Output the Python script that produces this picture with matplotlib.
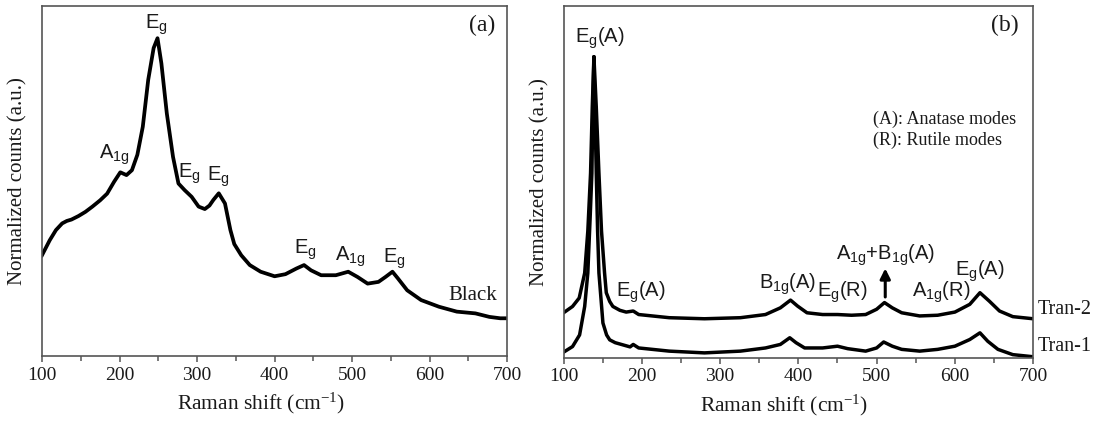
import matplotlib
matplotlib.use("Agg")
import matplotlib.pyplot as plt
from matplotlib.ticker import MultipleLocator

plt.rcParams['mathtext.default'] = 'regular'

# ---------------- data: panel (a) "Black" ----------------
black_shift = [100, 110, 118, 126, 132, 138, 147, 156, 165, 175, 184, 193, 201,
               209, 216, 223, 230, 237, 244, 249, 254, 261, 269, 276, 284, 293,
               302, 310, 316, 321, 328, 336, 343, 348, 357, 368, 382, 400, 414,
               428, 438, 447, 460, 479, 495, 507, 520, 534, 543, 552, 559, 571,
               589, 612, 635, 659, 677, 691, 700]
black_counts = [0.288, 0.331, 0.360, 0.379, 0.386, 0.390, 0.400, 0.412, 0.427,
                0.445, 0.464, 0.498, 0.525, 0.517, 0.531, 0.575, 0.655, 0.789,
                0.880, 0.908, 0.836, 0.693, 0.569, 0.493, 0.474, 0.455, 0.427,
                0.420, 0.430, 0.446, 0.465, 0.436, 0.360, 0.320, 0.288, 0.260,
                0.241, 0.228, 0.234, 0.250, 0.260, 0.245, 0.231, 0.231, 0.241,
                0.226, 0.207, 0.212, 0.226, 0.241, 0.222, 0.188, 0.160, 0.141,
                0.127, 0.122, 0.112, 0.108, 0.108]

# ---------------- data: panel (b) ----------------
tran1_shift = [100, 111.5, 120.5, 127, 131, 134, 136.2, 137.5, 138.8, 140,
               141.8, 143.5, 145.2, 150.3, 155, 159, 166, 185, 189, 196, 235,
               280, 326, 358, 377, 389, 397, 408, 431, 450, 463, 486, 500, 509,
               520, 532, 555, 578, 600, 619, 632, 642, 655, 674, 700]
tran1_counts = [0.016, 0.032, 0.065, 0.146, 0.241, 0.40, 0.525, 0.713, 0.856,
                0.713, 0.525, 0.36, 0.241, 0.099, 0.065, 0.051, 0.043, 0.031,
                0.038, 0.028, 0.019, 0.014, 0.019, 0.028, 0.038, 0.057, 0.043,
                0.028, 0.028, 0.033, 0.026, 0.019, 0.028, 0.045, 0.033, 0.024,
                0.019, 0.024, 0.033, 0.052, 0.071, 0.047, 0.024, 0.009, 0.003]

tran2_shift = [100, 111.5, 120, 127, 131, 134.5, 136.7, 138.8, 141.8, 145.2,
               148.5, 152.4, 154.6, 159, 163, 172, 180, 189, 196, 235, 280,
               326, 358, 377, 390, 399, 411, 431, 450, 468, 486, 500, 510, 520,
               532, 555, 578, 600, 619, 632, 644, 657, 674, 700]
tran2_counts = [0.128, 0.146, 0.170, 0.241, 0.36, 0.525, 0.713, 0.856, 0.713,
                0.525, 0.36, 0.241, 0.185, 0.160, 0.146, 0.135, 0.130, 0.133,
                0.123, 0.114, 0.111, 0.114, 0.123, 0.142, 0.164, 0.147, 0.128,
                0.123, 0.123, 0.121, 0.123, 0.138, 0.157, 0.142, 0.128, 0.119,
                0.121, 0.130, 0.152, 0.185, 0.161, 0.133, 0.117, 0.111]

# peak labels (text, x, y)
labels_a = [("E$_g$", 248, 0.945), ("A$_{1g}$", 193, 0.574), ("E$_g$", 290, 0.521),
            ("E$_g$", 327, 0.512), ("E$_g$", 440, 0.303), ("A$_{1g}$", 497, 0.284),
            ("E$_g$", 555, 0.279)]
labels_b = [("E$_g$(A)", 146, 0.907), ("E$_g$(A)", 198, 0.185), ("B$_{1g}$(A)", 386, 0.209),
            ("E$_g$(R)", 456, 0.185), ("A$_{1g}$+B$_{1g}$(A)", 511, 0.292),
            ("A$_{1g}$(R)", 582, 0.185), ("E$_g$(A)", 632, 0.247)]

SERIF = ['Liberation Serif', 'DejaVu Serif']
SANS = ['Liberation Sans', 'DejaVu Sans']
TXT = '#1a1a1a'
SPINE = '#555555'

fig = plt.figure(figsize=(11.05, 4.28), dpi=100)
ax_a = fig.add_axes([0.038, 0.168, 0.421, 0.818])
ax_b = fig.add_axes([0.510, 0.164, 0.425, 0.822])

for ax in (ax_a, ax_b):
    ax.set_xlim(100, 700)
    ax.set_ylim(0, 1)
    ax.xaxis.set_major_locator(MultipleLocator(100))
    ax.xaxis.set_minor_locator(MultipleLocator(50))
    ax.set_yticks([])
    ax.tick_params(axis='x', which='major', direction='out', length=4, width=1.1,
                   color=SPINE, pad=3.5, labelsize=14, labelcolor=TXT)
    ax.tick_params(axis='x', which='minor', direction='out', length=3.5, width=1.1,
                   color=SPINE)
    for lab in ax.get_xticklabels():
        lab.set_fontfamily(SERIF)
    for s in ax.spines.values():
        s.set_color(SPINE)
        s.set_linewidth(1.2)
    ax.set_xlabel('Raman shift (cm$^{-1}$)', family=SERIF, fontsize=15.5, color=TXT)
    ax.set_ylabel('Normalized counts (a.u.)', family=SERIF, fontsize=15, color=TXT)
    ax.yaxis.set_label_coords(-0.031, 0.5)
    ax.xaxis.set_label_coords(0.47, -0.10)

# panel (a)
ax_a.plot(black_shift, black_counts, color='black', lw=2.7, solid_joinstyle='round')
for t, x, y in labels_a:
    ax_a.text(x, y, t, family=SANS, fontsize=14.5, color=TXT, ha='center', va='center')
ax_a.text(656, 0.174, 'Black', family=SERIF, fontsize=15, color=TXT, ha='center', va='center')
ax_a.text(668, 0.945, '(a)', family=SERIF, fontsize=17, color=TXT, ha='center', va='center')

# panel (b)
ax_b.plot(tran1_shift, tran1_counts, color='black', lw=2.5, solid_joinstyle='round')
ax_b.plot(tran2_shift, tran2_counts, color='black', lw=2.5, solid_joinstyle='round')
for t, x, y in labels_b:
    ax_b.text(x, y, t, family=SANS, fontsize=14.5, color=TXT, ha='center', va='center')
ax_b.annotate('', xy=(511, 0.262), xytext=(511, 0.165),
              arrowprops=dict(arrowstyle='-|>,head_length=0.6,head_width=0.3',
                              color='black', lw=2.2))
ax_b.text(1.01, 0.138, 'Tran-2', transform=ax_b.transAxes, family=SERIF,
          fontsize=14.5, color=TXT, ha='left', va='center')
ax_b.text(1.01, 0.033, 'Tran-1', transform=ax_b.transAxes, family=SERIF,
          fontsize=14.5, color=TXT, ha='left', va='center')
ax_b.text(495, 0.679, '(A): Anatase modes', family=SERIF, fontsize=13, color=TXT,
          ha='left', va='center')
ax_b.text(495, 0.617, '(R): Rutile modes', family=SERIF, fontsize=13, color=TXT,
          ha='left', va='center')
ax_b.text(664, 0.945, '(b)', family=SERIF, fontsize=17, color=TXT, ha='center', va='center')

fig.savefig('out.png', dpi=100)
